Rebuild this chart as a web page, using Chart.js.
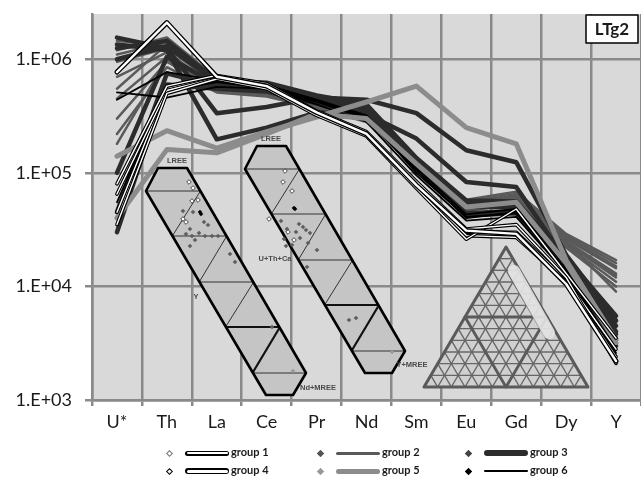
<!DOCTYPE html>
<html><head><meta charset="utf-8">
<script src="https://cdn.jsdelivr.net/npm/chart.js@4/dist/chart.umd.min.js"></script>
<style>
html,body{margin:0;padding:0;background:#fff;overflow:hidden;width:641px;height:494px;}
#wrap{position:relative;width:641px;height:494px;}
#c{position:absolute;left:0;top:0;}
.lg{position:absolute;font:bold 11px Lato,'Liberation Sans',sans-serif;color:#1a1a1a;line-height:12px;white-space:nowrap;}
.mk{position:absolute;width:4px;height:4px;transform:rotate(45deg);}
.ln{position:absolute;}
</style></head>
<body><div id="wrap"><canvas id="c" width="641" height="494"></canvas><div id="legend"></div></div>
<script>
const categories = ['U*','Th','La','Ce','Pr','Nd','Sm','Eu','Gd','Dy','Y'];
const yTickValues = [1e3, 1e4, 1e5, 1e6];
const yTickLabels = ['1.E+03','1.E+04','1.E+05','1.E+06'];
const groupNames = ['group 1','group 2','group 3','group 4','group 5','group 6'];

const group2Series = [
  [1.45e6,1.30e6,6.2e5,5.6e5,4.3e5,3.4e5,1.30e5,5.6e4,6.5e4,2.8e4,1.6e4],
  [1.20e6,1.55e6,6.8e5,6.0e5,4.6e5,3.7e5,1.35e5,5.8e4,6.8e4,2.9e4,1.7e4],
  [9.5e5,1.25e6,6.0e5,5.4e5,4.2e5,3.3e5,1.25e5,5.3e4,6.2e4,2.6e4,1.45e4],
  [7.0e5,1.15e6,5.7e5,5.2e5,4.0e5,3.1e5,1.20e5,5.0e4,6.0e4,2.5e4,1.3e4],
  [4.5e5,1.05e6,5.5e5,5.0e5,3.9e5,3.0e5,1.15e5,4.8e4,5.7e4,2.4e4,1.2e4],
  [3.0e5,9.5e5,5.3e5,4.9e5,3.8e5,2.9e5,1.12e5,4.7e4,5.5e4,2.3e4,1.1e4],
  [2.2e5,8.5e5,5.1e5,4.7e5,3.7e5,2.8e5,1.10e5,4.6e4,5.3e4,2.2e4,1.0e4],
  [1.8e5,1.0e6,5.6e5,5.1e5,4.0e5,3.1e5,1.18e5,5.1e4,5.9e4,2.5e4,9.0e3],
  [1.1e6,1.40e6,6.4e5,5.8e5,4.4e5,3.5e5,1.28e5,5.5e4,6.4e4,2.7e4,1.5e4],
  [5.5e5,1.35e6,5.9e5,5.3e5,4.1e5,3.2e5,1.22e5,5.2e4,6.1e4,2.4e4,1.25e4]
];
const group3Series = [
  [1.55e6,1.25e6,3.35e5,3.8e5,4.6e5,4.4e5,3.35e5,1.58e5,1.24e5,1.9e4,5.0e3],
  [1.35e6,1.20e6,1.97e5,2.5e5,3.4e5,3.3e5,2.0e5,8.3e4,7.5e4,1.7e4,3.8e3],
  [1.25e6,1.45e6,6.5e5,6.2e5,4.8e5,4.0e5,1.35e5,5.7e4,5.6e4,1.8e4,5.5e3],
  [1.0e5,1.05e6,6.0e5,5.7e5,4.5e5,3.6e5,1.25e5,5.0e4,5.0e4,1.6e4,4.5e3],
  [4.5e4,7.5e5,5.8e5,5.5e5,4.3e5,3.4e5,1.15e5,4.4e4,4.6e4,1.5e4,3.5e3],
  [3.0e4,6.0e5,5.5e5,5.2e5,4.1e5,3.2e5,1.10e5,4.2e4,4.4e4,1.4e4,3.0e3],
  [1.0e6,1.30e6,6.3e5,6.0e5,4.7e5,3.8e5,1.30e5,5.4e4,5.3e4,1.7e4,4.0e3]
];
const group5Series = [
  [1.4e5,2.35e5,1.65e5,2.3e5,3.1e5,4.2e5,5.8e5,2.5e5,1.8e5,1.7e4,3.4e3],
  [4.0e4,1.6e5,1.5e5,2.2e5,3.3e5,3.0e5,1.2e5,5.0e4,5.5e4,1.6e4,3.2e3]
];
const group6Series = [
  [5.1e5,4.6e5,5.7e5,5.5e5,4.2e5,3.0e5,1.05e5,4.0e4,4.5e4,1.4e4,2.6e3],
  [4.4e5,7.7e5,6.5e5,5.9e5,4.4e5,3.2e5,1.10e5,4.3e4,4.8e4,1.5e4,3.0e3],
  [3.5e4,5.2e5,6.3e5,5.6e5,4.0e5,2.8e5,9.5e4,3.8e4,4.1e4,1.3e4,2.2e3],
  [5.5e4,5.6e5,6.6e5,5.8e5,4.3e5,3.1e5,1.0e5,4.1e4,4.4e4,1.4e4,2.4e3]
];
const group1Series = [
  [4.5e4,5.5e5,7.0e5,5.9e5,3.4e5,2.2e5,8.0e4,3.0e4,3.0e4,1.15e4,2.8e3],
  [6.5e4,5.3e5,6.8e5,5.7e5,3.3e5,2.15e5,7.6e4,2.8e4,2.7e4,1.1e4,2.4e3],
  [3.5e4,5.0e5,6.7e5,5.5e5,3.2e5,2.1e5,7.3e4,2.6e4,4.8e4,1.3e4,3.5e3],
  [8.0e4,5.8e5,7.2e5,6.1e5,3.5e5,2.3e5,8.4e4,3.2e4,3.5e4,1.2e4,2.1e3]
];
const group4Series = [
  [7.7e5,2.1e6,7.0e5,5.8e5,3.4e5,2.2e5,7.8e4,3.1e4,2.9e4,1.05e4,2.2e3]
];

// build datasets (array order = drawing order, bottom first)
const ds = [];
function add(data, color, width){ ds.push({data, borderColor:color, borderWidth:width}); }
group2Series.forEach(s=>add(s,'#5a5a5a',2.5));
group3Series.forEach(s=>add(s,'#2c2c2c',4.5));
group6Series.forEach(s=>add(s,'#000000',1.8));
group5Series.forEach(s=>add(s,'#8c8c8c',5));
group1Series.forEach(s=>{ add(s,'#000000',3.6); add(s,'#ffffff',1.4); });
group4Series.forEach(s=>{ add(s,'#000000',5); add(s,'#ffffff',2.4); });
const N = ds.length;
ds.forEach((d,i)=>{ Object.assign(d,{order:N-i, pointRadius:0, tension:0, fill:false,
  borderJoinStyle:'round', borderCapStyle:'round'}); });

const bgPlugin = {
  id:'bg',
  beforeDraw(chart){
    const {ctx, chartArea:a} = chart;
    ctx.save(); ctx.fillStyle='#d9d9d9';
    ctx.fillRect(a.left,a.top,a.right-a.left,a.bottom-a.top); ctx.restore();
  }
};

const insetPlugin = {
  id:'insets',
  afterDatasetsDraw(chart){
    const ctx = chart.ctx, a = chart.chartArea;
    const sx = (a.right-a.left)/549, sy = (a.bottom-a.top)/386;
    const P = (x,y)=>[a.left+(x-92)*sx, a.top+(y-14)*sy];
    const line=(p,q,w,c)=>{ctx.beginPath();ctx.moveTo(...P(...p));ctx.lineTo(...P(...q));ctx.lineWidth=w;ctx.strokeStyle=c;ctx.stroke();};
    const poly=(pts)=>{ctx.beginPath();pts.forEach((p,i)=>{const q=P(...p); i?ctx.lineTo(...q):ctx.moveTo(...q);});ctx.closePath();};
    const label=(t,x,y,al)=>{const q=P(x,y);ctx.font='bold 7.5px "Liberation Sans",Arial,sans-serif';ctx.fillStyle='#4a4a4a';ctx.textAlign=al||'center';ctx.textBaseline='middle';ctx.fillText(t,q[0],q[1]);};
    ctx.save(); ctx.lineJoin='round';

    function strip(dx,dy,pts){
      const k=0.585;
      const xl=y=>146+(y-191)*k+dx, xr=y=>187+(y-168)*k+dx;
      const outline=[[158,168],[187,168],[306,373],[293,395],[266,395],[253,373],[146,191]].map(p=>[p[0]+dx,p[1]+dy]);
      poly(outline); ctx.fillStyle='#c5c5c5'; ctx.fill();
      const ys=[191,236,282,327,373];
      ys.forEach((y,i)=>line([xl(y),y+dy],[xr(y),y+dy], i===3?2.2:1, i===3?'#111':'#333'));
      for(let i=0;i<4;i++){ line([xl(ys[i+1]),ys[i+1]+dy],[xr(ys[i]),ys[i]+dy], i===3?2.2:1, i===3?'#111':'#333'); }
      poly(outline); ctx.lineWidth=2.6; ctx.strokeStyle='#000'; ctx.stroke();
      pts.forEach(p=>{
        const q=P(p[0],p[1]); const r=2.3;
        ctx.beginPath(); ctx.moveTo(q[0],q[1]-r); ctx.lineTo(q[0]+r,q[1]); ctx.lineTo(q[0],q[1]+r); ctx.lineTo(q[0]-r,q[1]); ctx.closePath();
        if(p[2]==='o'){ctx.fillStyle='#fff';ctx.fill();ctx.lineWidth=0.8;ctx.strokeStyle='#222';ctx.stroke();}
        else {ctx.fillStyle={g:'#5e5e5e',k:'#000',l:'#9a9a9a'}[p[2]];ctx.fill();}
      });
    }
    const leftPts=[[189,182,'o'],[193,188,'o'],[192,201,'o'],[198,200,'o'],[183,219,'o'],[186,222,'o'],
      [200,212,'k'],[201,214,'k'],[183,211,'g'],[193,212,'g'],[204,222,'g'],[208,225,'g'],[190,229,'g'],[186,234,'g'],
      [192,236,'g'],[195,240,'g'],[199,233,'g'],[205,236,'g'],[212,236,'g'],[218,236,'g'],[190,246,'g'],[230,254,'g'],
      [235,262,'g'],[272,327,'g'],[293,371,'l']];
    const rightPts=[[285,171,'o'],[283,182,'o'],[292,191,'o'],[269,219,'o'],[288,232,'o'],[294,240,'o'],
      [294,208,'k'],[295,209,'k'],[281,221,'g'],[299,224,'g'],[303,227,'g'],[287,229,'g'],[296,232,'g'],[306,230,'g'],
      [310,233,'g'],[284,239,'g'],[292,245,'g'],[300,238,'g'],[308,243,'g'],[317,250,'g'],[307,267,'g'],[349,320,'g'],
      [356,318,'g'],[286,246,'g'],[392,352,'l']];
    strip(0,0,leftPts);
    strip(99,-22,rightPts);
    label('LREE',177,161); label('LREE',271,139);
    label('Y',196,297); label('U+Th+Ca',275,259);
    label('Nd+MREE',318,388); label('Y+MREE',412,365);

    // ternary triangle
    const T=[506,247], L=[424,387], R=[588,387], n=12;
    const lerp=(p,q,t)=>[p[0]+(q[0]-p[0])*t,p[1]+(q[1]-p[1])*t];
    poly([T,L,R]); ctx.fillStyle='#d0d0d0'; ctx.fill();
    for(let i=1;i<n;i++){
      line(lerp(L,T,i/n), lerp(R,T,i/n), 1.4, '#666');
      line(lerp(L,R,i/n), lerp(R,T,(n-i)/n), 1.4, '#666');
      line(lerp(L,R,i/n), lerp(L,T,i/n), 1.4, '#666');
    }
    const mLT=lerp(L,T,0.5), mRT=lerp(R,T,0.5), mLR=lerp(L,R,0.5);
    poly([mLT,mRT,mLR]); ctx.lineWidth=2.8; ctx.strokeStyle='#5a5a5a'; ctx.stroke();
    poly([T,L,R]); ctx.lineWidth=3; ctx.strokeStyle='#5a5a5a'; ctx.stroke();
    // pale band
    ctx.lineCap='round';
    line([514,271],[549,333],12,'rgba(226,226,226,0.93)');
    ctx.lineCap='butt';

    // title box
    const b0=P(586,15), b1=P(638,43);
    ctx.fillStyle='#fff'; ctx.fillRect(b0[0],b0[1],b1[0]-b0[0],b1[1]-b0[1]);
    ctx.lineWidth=1.5; ctx.strokeStyle='#000'; ctx.strokeRect(b0[0],b0[1],b1[0]-b0[0],b1[1]-b0[1]);
    ctx.font='bold 17px Lato,"Liberation Sans",sans-serif'; ctx.fillStyle='#1a1a1a';
    ctx.textAlign='center'; ctx.textBaseline='middle';
    ctx.fillText('LTg2',(b0[0]+b1[0])/2,(b0[1]+b1[1])/2+1);
    ctx.restore();
  }
};

new Chart(document.getElementById('c'), {
  type:'line',
  data:{labels:categories, datasets:ds},
  options:{
    responsive:false, animation:false, devicePixelRatio:1,
    layout:{padding:{top:14,left:0,right:0,bottom:0}},
    plugins:{legend:{display:false}, tooltip:{enabled:false}},
    scales:{
      x:{
        offset:true,
        grid:{offset:true,color:'#8a8a8a',lineWidth:2.5,tickLength:6,tickColor:'#8a8a8a'},
        border:{color:'#8a8a8a',width:2.5},
        ticks:{font:{family:'Lato',size:18},color:'#1a1a1a',padding:5,maxRotation:0,autoSkip:false},
        afterFit(s){ s.height=94; s.paddingLeft=0; s.paddingRight=0; }
      },
      y:{
        type:'logarithmic', min:1000, max:2.5e6,
        afterBuildTicks(s){ s.ticks = yTickValues.map(v=>({value:v})); },
        afterFit(s){ s.width=92; s.paddingTop=0; s.paddingBottom=0; },
        grid:{color:'#8a8a8a',lineWidth:2.5,tickLength:7,tickColor:'#8a8a8a'},
        border:{color:'#8a8a8a',width:2.5},
        ticks:{font:{family:'Lato',size:18},color:'#1a1a1a',padding:13,
          callback:(v)=>{const i=yTickValues.indexOf(v); return i>=0?yTickLabels[i]:'';}}
      }
    }
  },
  plugins:[bgPlugin, insetPlugin]
});

// legend (HTML)
const legendMarkers = [
  {fill:'#fff',border:'#777'},{fill:'#555',border:'#555'},{fill:'#444',border:'#444'},
  {fill:'#fff',border:'#000'},{fill:'#9a9a9a',border:'#9a9a9a'},{fill:'#000',border:'#000'}
];
const legendLines = [
  {outer:'#000',ow:5,inner:'#fff',iw:2.4},{outer:'#595959',ow:3},{outer:'#2c2c2c',ow:6},
  {outer:'#000',ow:6,inner:'#fff',iw:3},{outer:'#8c8c8c',ow:5},{outer:'#000',ow:2}
];
const leg = document.getElementById('legend');
const colX=[169,320,468], rowY=[453,471];
groupNames.forEach((name,i)=>{
  const c=i%3, r=Math.floor(i/3);
  const cx=colX[c], cy=rowY[r];
  const m=document.createElement('div'); m.className='mk';
  m.style.left=(cx-2)+'px'; m.style.top=(cy-2)+'px';
  m.style.background=legendMarkers[i].fill; m.style.border='1px solid '+legendMarkers[i].border;
  m.style.width='3px'; m.style.height='3px';
  leg.appendChild(m);
  const L=legendLines[i];
  const x0=cx+16, w=44;
  const o=document.createElement('div'); o.className='ln';
  o.style.left=x0+'px'; o.style.width=w+'px'; o.style.top=(cy-L.ow/2)+'px'; o.style.height=L.ow+'px';
  o.style.background=L.outer; o.style.borderRadius=(L.ow/2)+'px';
  leg.appendChild(o);
  if(L.inner){
    const n=document.createElement('div'); n.className='ln';
    n.style.left=(x0+1.5)+'px'; n.style.width=(w-3)+'px'; n.style.top=(cy-L.iw/2)+'px'; n.style.height=L.iw+'px';
    n.style.background=L.inner; n.style.borderRadius=(L.iw/2)+'px';
    leg.appendChild(n);
  }
  const t=document.createElement('div'); t.className='lg'; t.textContent=name;
  t.style.left=(x0+w+2)+'px'; t.style.top=(cy-7)+'px';
  leg.appendChild(t);
});
</script>
</body></html>
